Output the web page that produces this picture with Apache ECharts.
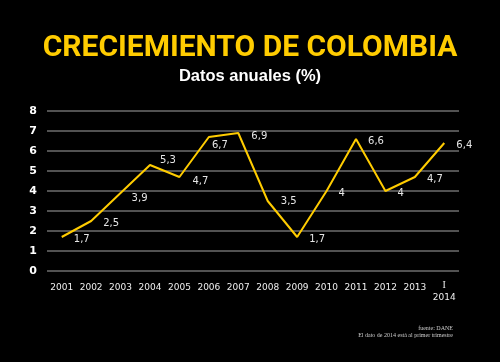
<!DOCTYPE html>
<html>
<head>
<meta charset="utf-8">
<script src="https://cdn.jsdelivr.net/npm/echarts@6/dist/echarts.min.js"></script>
<style>
html,body{margin:0;padding:0;background:#000;}
#chart{width:500px;height:362px;}
</style>
</head>
<body>
<div id="chart"></div>
<script>
var categories = ['2001','2002','2003','2004','2005','2006','2007','2008','2009','2010','2011','2012','2013','2014'];
var tickLabels = ['2001','2002','2003','2004','2005','2006','2007','2008','2009','2010','2011','2012','2013','{a|I}\n{b|2014}'];
var growth = [1.7, 2.5, 3.9, 5.3, 4.7, 6.7, 6.9, 3.5, 1.7, 4, 6.6, 4, 4.7, 6.4];
var yTicks = [0, 1, 2, 3, 4, 5, 6, 7, 8];

var titleText = 'CRECIEMIENTO DE COLOMBIA';
var subtitleText = 'Datos anuales (%)';
var sourceText = 'fuente: DANE';
var noteText = 'El dato de 2014 está al primer trimestre';

// label nudges (layout only)
var nudges = {2:[6,5], 3:[5,-5], 4:[8,4], 5:[-2,8], 6:[8,3], 7:[8,0]};

var seriesData = growth.map(function(v, i){
  var o = {value: v};
  if (nudges[i]) o.label = {offset: nudges[i]};
  return o;
});

var chart = echarts.init(document.getElementById('chart'));
chart.setOption({
  backgroundColor: '#000',
  animation: false,
  title: [
    {text: titleText, left: 'center', top: 28,
     textStyle: {color: '#FFCC00', fontSize: 30, fontWeight: 'bold', fontFamily: 'Liberation Sans Narrow, Roboto, sans-serif'}},
    {text: subtitleText, left: 'center', top: 63,
     textStyle: {color: '#fff', fontSize: 16.5, fontWeight: 'bold', fontFamily: 'Liberation Sans, sans-serif'}}
  ],
  grid: {left: 47, right: 41, top: 111, bottom: 91},
  xAxis: {
    type: 'category',
    data: categories,
    boundaryGap: true,
    axisLine: {show: false},
    axisTick: {show: false},
    axisLabel: {
      color: '#eee', fontSize: 9, fontFamily: 'DejaVu Sans', margin: 10, interval: 0,
      lineHeight: 14,
      formatter: function(v, i){ return tickLabels[i]; },
      rich: {
        a: {color: '#eee', fontSize: 10, fontFamily: 'Liberation Serif', lineHeight: 9},
        b: {color: '#eee', fontSize: 9, fontFamily: 'DejaVu Sans', lineHeight: 16}
      }
    }
  },
  yAxis: {
    type: 'value', min: 0, max: 8, interval: 1,
    axisLine: {show: false}, axisTick: {show: false},
    axisLabel: {color: '#fff', fontSize: 11, fontWeight: 'bold', fontFamily: 'DejaVu Sans', margin: 10,
      formatter: function(v){ return yTicks.indexOf(v) >= 0 ? String(v) : ''; }},
    splitLine: {lineStyle: {color: '#6e6e6e', width: 1.5}}
  },
  series: [{
    type: 'line',
    data: seriesData,
    symbol: 'circle',
    symbolSize: 0.1,
    itemStyle: {color: '#FFCC00'},
    lineStyle: {color: '#FFCC00', width: 2},
    label: {
      show: true, position: 'right', distance: 5, offset: [7, 2],
      color: '#e6e6e6', fontSize: 10, fontFamily: 'DejaVu Sans',
      formatter: function(p){ return String(p.value).replace('.', ','); }
    }
  }],
  graphic: [
    {type: 'text', right: 47, top: 325, style: {text: sourceText, fill: '#ccc', font: '6px "Liberation Serif"', textAlign: 'right'}},
    {type: 'text', right: 47, top: 332, style: {text: noteText, fill: '#ccc', font: '6px "Liberation Serif"', textAlign: 'right'}}
  ]
});
</script>
</body>
</html>
